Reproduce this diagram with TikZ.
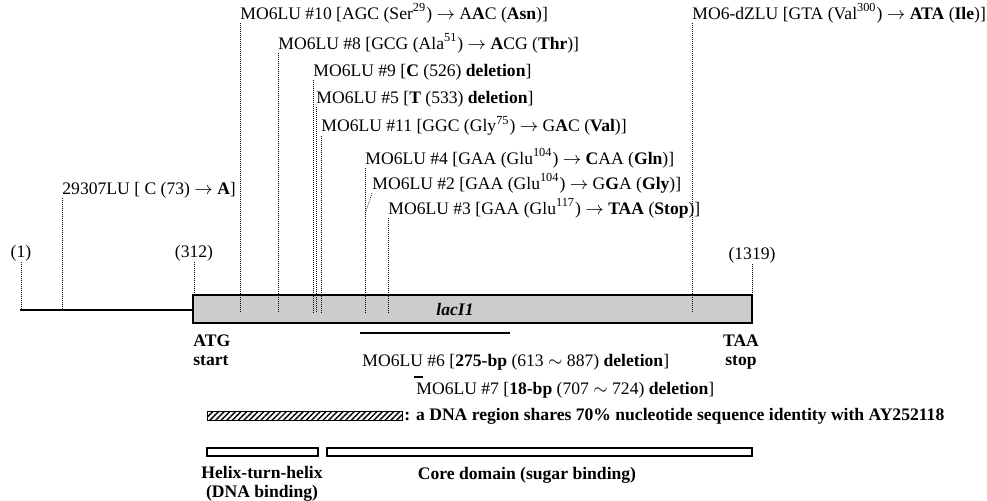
\documentclass[tikz,border=0pt]{standalone}
\usepackage{fontspec}
\setmainfont{Liberation Serif}
\usetikzlibrary{patterns.meta}

\begin{document}
\begin{tikzpicture}[x=0.5pt, y=-0.5pt,
    lbl/.style={anchor=west, inner sep=0pt, font=\fontsize{8.8}{10}\selectfont},
    blbl/.style={inner sep=0pt, align=center, font=\fontsize{8.8}{9.5}\selectfont\bfseries},
    tick/.style={line width=0.3pt, dash pattern=on 0.45pt off 0.55pt}]
    \useasboundingbox (0,0) rectangle (987,500);
    \coordinate (base) at (0,310);
    \coordinate (top) at (0,295);
    \coordinate (mid) at (0,313);
    % Gene
    \draw[line width=0.8pt] (20,310) -- (193,310);
    \draw[line width=0.8pt, fill=gray!40] (193,295) rectangle (752,323);
    \node[font=\fontsize{8.8}{10}\selectfont\bfseries\itshape] (gene) at (455,309) {lacI1};
    % Positions
    \node[lbl, anchor=south] (p1) at (21,262) {(1)};
    \node[lbl, anchor=south] (p312) at (194,262) {(312)};
    \node[lbl, anchor=south] (p1319) at (752,264) {(1319)};
    \draw[tick] (p1.south) -- (p1.south |- base);
    \draw[tick] (p312.south) -- (p312.south |- top);
    \draw[tick] (p1319.south) -- (p1319.south |- top);
    % Point mutations
    \node[lbl] (m10) at (240,13) {MO6LU \#10 [AGC (Ser\textsuperscript{29}) $\rightarrow$ A\textbf{A}C (\textbf{Asn})]};
    \node[lbl] (m8) at (278,43) {MO6LU \#8 [GCG (Ala\textsuperscript{51}) $\rightarrow$ \textbf{A}CG (\textbf{Thr})]};
    \node[lbl] (m9) at (313,72) {MO6LU \#9 [\textbf{C} (526) \textbf{deletion}]};
    \node[lbl] (m5) at (316,99) {MO6LU \#5 [\textbf{T} (533) \textbf{deletion}]};
    \node[lbl] (m11) at (321,126) {MO6LU \#11 [GGC (Gly\textsuperscript{75}) $\rightarrow$ G\textbf{A}C (\textbf{Val})]};
    \node[lbl] (m4) at (365,158) {MO6LU \#4 [GAA (Glu\textsuperscript{104}) $\rightarrow$ \textbf{C}AA (\textbf{Gln})]};
    \node[lbl] (m2) at (372,183) {MO6LU \#2 [GAA (Glu\textsuperscript{104}) $\rightarrow$ G\textbf{G}A (\textbf{Gly})]};
    \node[lbl] (m3) at (388,208) {MO6LU \#3 [GAA (Glu\textsuperscript{117}) $\rightarrow$ \textbf{TAA} (\textbf{Stop})]};
    \node[lbl] (dz) at (692,13) {MO6-dZLU [GTA (Val\textsuperscript{300}) $\rightarrow$ \textbf{ATA} (\textbf{Ile})]};
    \node[lbl] (l29) at (62,190) {29307LU [ C (73) $\rightarrow$ \textbf{A}]};
    \foreach \m in {m10,m8,m9,m5,m11,m4,m3,dz}
      \draw[tick] (\m.south west) -- (\m.south west |- mid);
    \draw[tick] (l29.south west) -- (l29.south west |- base);
    \coordinate (k2) at (365,214);
    \draw[tick] (m2.south west) -- (k2);
    % Deletions
    \draw[line width=1.2pt] (360,333) -- (510,333);
    \node[lbl] (m6) at (362,362) {MO6LU \#6 [\textbf{275-bp} (613 $\sim$ 887) \textbf{deletion}]};
    \draw[line width=1.2pt] (414,377) -- (423,377);
    \node[lbl] (m7) at (416,390) {MO6LU \#7 [\textbf{18-bp} (707 $\sim$ 724) \textbf{deletion}]};
    % Start and stop
    \node[blbl, anchor=north west, align=left] (atg) at (193,334) {ATG\\start};
    \node[blbl, anchor=north] (taa) at (741,334) {TAA\\stop};
    % Legend
    \draw[line width=0.4pt, pattern={Lines[angle=45, distance=2pt, line width=0.7pt]}] (207,411) rectangle (402,420);
    \node[blbl, anchor=west] (idn) at (404,416) {: a DNA region shares 70\% nucleotide sequence identity with AY252118};
    \draw[line width=0.6pt] (207,448) rectangle (318,456);
    \draw[line width=0.6pt] (327,448) rectangle (752,456);
    \node[blbl] (hth) at (262,484) {Helix-turn-helix\\(DNA binding)};
    \node[blbl] (core) at (527,475) {Core domain (sugar binding)};
\end{tikzpicture}
\end{document}
